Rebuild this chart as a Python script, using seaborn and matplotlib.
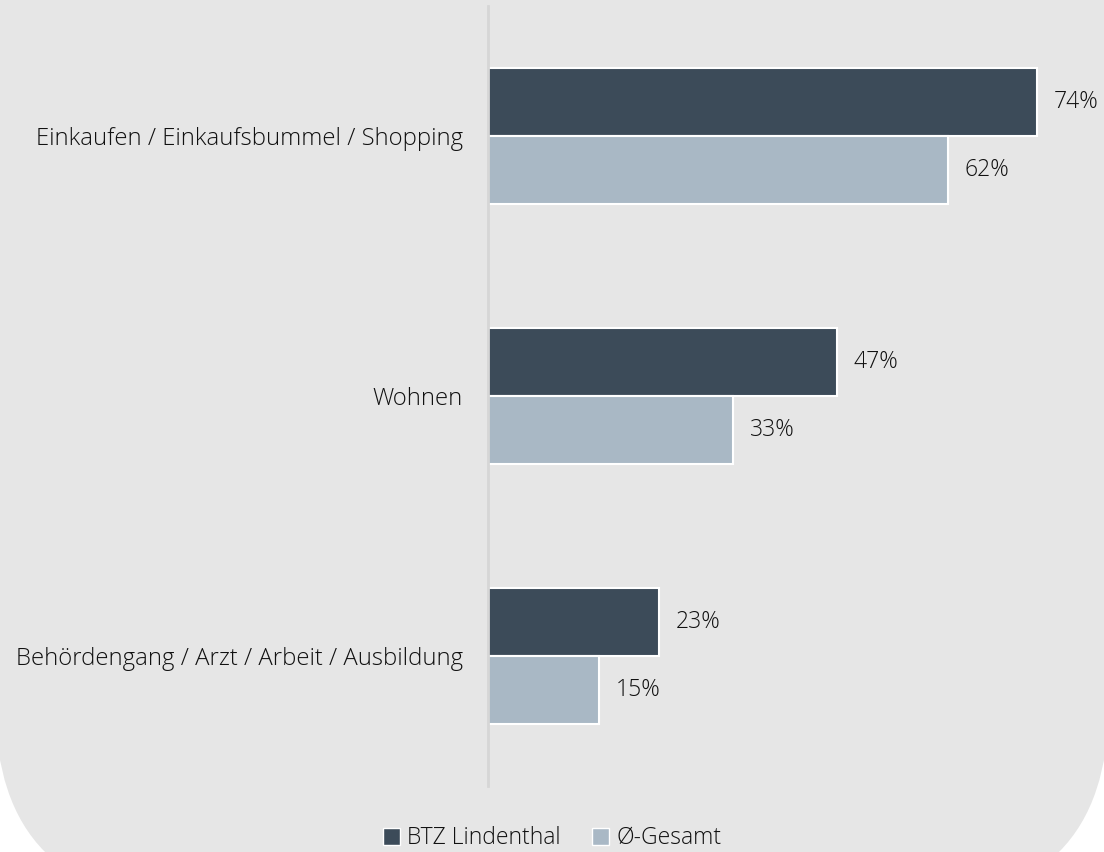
import pandas as pd
import seaborn as sns
import matplotlib.pyplot as plt
from matplotlib.patches import FancyBboxPatch, Patch

# Daten
kategorien = ['Einkaufen / Einkaufsbummel / Shopping', 'Wohnen',
              'Behördengang / Arzt / Arbeit / Ausbildung']
serien = ['BTZ Lindenthal', 'Ø-Gesamt']
werte_btz = [74, 47, 23]
werte_gesamt = [62, 33, 15]
farben = ['#3c4b59', '#a9b8c5']

df = pd.DataFrame({
    'Kategorie': kategorien * 2,
    'Serie': [serien[0]] * 3 + [serien[1]] * 3,
    'Wert': werte_btz + werte_gesamt,
})

sns.set_style('white')
plt.rcParams['font.family'] = ['Open Sans', 'DejaVu Sans']
plt.rcParams['font.weight'] = 'light'
textfarbe = '#111111'

fig = plt.figure(figsize=(11.04, 8.52), dpi=100)
fig.patch.set_facecolor('white')

# Hintergrund mit runden Ecken
hg = FancyBboxPatch((-0.05, -0.5), 11.14, 10.55,
                    boxstyle='round,pad=0,rounding_size=2.0',
                    transform=fig.dpi_scale_trans, facecolor='#e6e6e6',
                    edgecolor='none', zorder=-5)
fig.patches.append(hg)

ax = fig.add_axes([0.442, 0.0775, 0.538, 0.9155])
ax.set_facecolor('none')
ax.set_zorder(2)

sns.barplot(data=df, y='Kategorie', x='Wert', hue='Serie', order=kategorien,
            hue_order=serien, palette=farben, saturation=1, orient='h',
            width=0.52, edgecolor='white', linewidth=1.5, ax=ax, legend=False)

ax.set_xlim(0, 80)
ax.set_ylim(2.5, -0.5)
ax.set_xlabel('')
ax.set_ylabel('')
ax.set_xticks([])
for s in ['top', 'right', 'bottom']:
    ax.spines[s].set_visible(False)
ax.spines['left'].set_color('#d6d6d6')
ax.spines['left'].set_linewidth(2)
ax.tick_params(axis='y', length=0, pad=18, labelsize=17.2, labelcolor=textfarbe)

# Werte beschriften
for cont in ax.containers:
    ax.bar_label(cont, labels=[f'{v:.0f}%' for v in cont.datavalues],
                 padding=12, fontsize=16.5, color=textfarbe, clip_on=False)

handles = [Patch(facecolor=c, edgecolor='white', linewidth=1) for c in farben]
leg = fig.legend(handles, serien, loc='lower center', bbox_to_anchor=(0.5, -0.022),
                 ncol=2, frameon=False, fontsize=16.5, handlelength=0.75,
                 handleheight=0.75, handletextpad=0.3, columnspacing=1.4,
                 labelcolor=textfarbe)
leg.set_zorder(3)

fig.savefig('out.png', dpi=100, facecolor='white')
